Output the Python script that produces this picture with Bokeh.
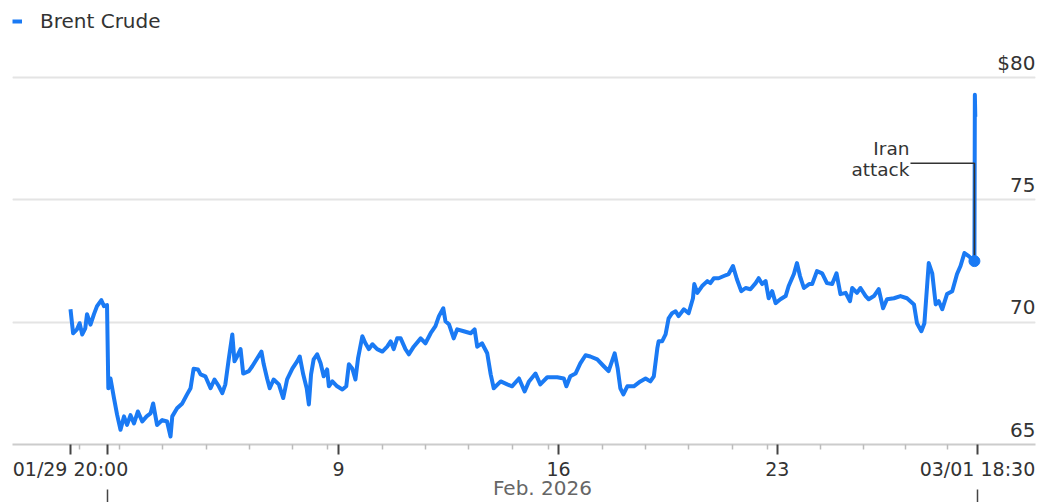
from bokeh.plotting import figure
from bokeh.models import Range1d, FixedTicker, LinearAxis, Grid, Legend, LegendItem
from bokeh.core.properties import value
from bokeh.embed import file_html
from bokeh.resources import INLINE

BLUE = "#1a7af4"
FONT = "DejaVu Sans"

# trading-day offset from 01/29 20:00 (weekends compressed) and Brent price, $
t_days = [
    0.00, 0.06, 0.15, 0.21, 0.27, 0.34, 0.38, 0.46, 0.54, 0.61, 0.71, 0.77, 0.84,
    0.87, 0.92, 1.00, 1.07, 1.15, 1.23, 1.30, 1.38, 1.46, 1.55, 1.65, 1.75, 1.84,
    1.90, 1.99, 2.11, 2.22, 2.30, 2.34, 2.45, 2.57, 2.68, 2.76, 2.83, 2.93, 2.99,
    3.10, 3.22, 3.31, 3.41, 3.49, 3.56, 3.64, 3.72, 3.77, 3.83, 3.91, 3.97, 4.10,
    4.18, 4.29, 4.39, 4.44, 4.52, 4.58, 4.67, 4.79, 4.89, 4.98, 5.10, 5.21, 5.27,
    5.35, 5.43, 5.48, 5.53, 5.59, 5.67, 5.75, 5.82, 5.90, 5.94, 6.02, 6.13, 6.25,
    6.34, 6.40, 6.48, 6.55, 6.61, 6.71, 6.78, 6.86, 6.94, 7.05, 7.17, 7.28, 7.36,
    7.43, 7.51, 7.59, 7.70, 7.78, 7.89, 8.05, 8.16, 8.28, 8.39, 8.47, 8.57, 8.62,
    8.70, 8.81, 8.89, 9.04, 9.20, 9.29, 9.35, 9.46, 9.58, 9.66, 9.73, 9.89, 10.04,
    10.15, 10.31, 10.44, 10.54, 10.69, 10.80, 10.96, 11.19, 11.34, 11.40, 11.49,
    11.61, 11.72, 11.84, 11.95, 12.11, 12.26, 12.37, 12.51, 12.58, 12.64, 12.71,
    12.80, 12.95, 13.10, 13.22, 13.33, 13.41, 13.49, 13.52, 13.60, 13.68, 13.75,
    13.83, 13.91, 13.98, 14.10, 14.21, 14.31, 14.34, 14.41, 14.52, 14.64, 14.71,
    14.79, 14.90, 15.02, 15.13, 15.23, 15.32, 15.42, 15.52, 15.63, 15.75, 15.82,
    15.90, 15.98, 16.05, 16.13, 16.21, 16.32, 16.44, 16.51, 16.63, 16.70, 16.77,
    16.86, 16.98, 17.05, 17.16, 17.28, 17.39, 17.51, 17.61, 17.70, 17.82, 17.92,
    17.97, 18.08, 18.16, 18.28, 18.35, 18.47, 18.58, 18.68, 18.77, 18.93, 19.08,
    19.23, 19.39, 19.46, 19.56, 19.63, 19.73, 19.81, 19.89, 19.96, 20.04, 20.15,
    20.27, 20.38, 20.46, 20.55, 20.65, 20.78, 20.79, 20.80,
]
price = [
    70.53, 69.55, 69.71, 69.96, 69.50, 69.75, 70.33, 69.90, 70.33, 70.66, 70.90, 70.66, 70.70,
    67.30, 67.70, 66.90, 66.23, 65.60, 66.15, 65.80, 66.20, 65.86, 66.35, 65.94, 66.15, 66.27,
    66.68, 65.80, 66.00, 65.94, 65.33, 66.15, 66.48, 66.68, 67.05, 67.30, 68.10, 68.07, 67.87,
    67.79, 67.30, 67.66, 67.38, 67.10, 67.46, 68.52, 69.50, 68.40, 68.60, 68.90, 67.90, 68.00,
    68.20, 68.52, 68.80, 68.30, 67.70, 67.30, 67.66, 67.46, 66.90, 67.66, 68.10, 68.40, 68.60,
    67.87, 67.30, 66.64, 67.87, 68.48, 68.69, 68.32, 67.79, 68.07, 67.38, 67.58, 67.38, 67.25,
    67.38, 68.28, 68.10, 67.66, 68.52, 69.43, 69.14, 68.90, 69.10, 68.90, 68.80, 69.00, 69.22,
    68.90, 69.34, 69.34, 68.90, 68.69, 69.00, 69.34, 69.14, 69.55, 69.84, 70.25, 70.57, 70.04,
    69.92, 69.34, 69.71, 69.63, 69.55, 69.71, 69.00, 69.14, 68.73, 67.87, 67.30, 67.58, 67.46,
    67.38, 67.70, 67.17, 67.58, 67.90, 67.46, 67.75, 67.75, 67.70, 67.38, 67.79,
    67.90, 68.32, 68.65, 68.60, 68.48, 68.20, 68.00, 68.73, 68.10, 67.30, 67.05,
    67.38, 67.38, 67.58, 67.70, 67.58, 67.79, 68.93, 69.22, 69.22, 69.50, 70.16,
    70.37, 70.45, 70.25, 70.53, 70.37, 70.98, 71.56, 71.20, 71.48, 71.68, 71.60,
    71.80, 71.80, 71.89, 71.97, 72.30, 71.76, 71.27, 71.40, 71.35, 71.60, 71.80,
    71.56, 71.68, 70.98, 71.27, 70.78, 70.94, 71.07, 71.48, 71.97, 72.42, 71.89,
    71.40, 71.56, 71.56, 72.09, 72.00, 71.60, 71.56, 72.00, 71.15, 71.20, 70.86,
    71.40, 71.20, 71.40, 71.07, 70.94, 71.07, 71.35, 70.57, 70.94, 70.98, 71.07,
    70.98, 70.73, 69.96, 69.63, 69.96, 72.42, 72.00, 70.73, 70.86, 70.53, 71.15,
    71.27, 71.97, 72.30, 72.83, 72.70, 72.50, 79.30, 78.40,
]

y_ticks = [65, 70, 75, 80]
y_labels = ["65", "70", "75", "$80"]
grid_ticks = [70, 75, 80]

x_tick_days = [0.0, 0.85, 6.16, 11.22, 16.25, 20.85]
x_tick_labels = ["01/29 20:00", "", "9", "16", "23", "03/01 18:30"]
x_minor_days = [0.21, 1.13, 2.11, 3.13, 4.11, 5.10, 5.91, 7.17, 8.16, 9.15, 10.16,
                10.99, 12.23, 13.22, 14.21, 15.22, 16.02, 17.24, 18.23, 19.20, 20.16]
month_bounds = [0.85, 20.85]
month_label = "Feb. 2026"

event_t = 20.78
event_price = 72.50
event_leader_t = 19.31
event_leader_price = 76.50
event_text = ["Iran", "attack"]
event_text_price = [77.09, 76.23]

series_name = "Brent Crude"

W, H = 1039, 502
x_start, x_end = -1.333, 22.184
y_start, y_end = 65.0, 82.83

p = figure(width=W, height=H, output_backend="svg", toolbar_location=None,
           x_range=Range1d(x_start, x_end), y_range=Range1d(y_start, y_end),
           y_axis_location=None, min_border_left=12, min_border_right=4,
           min_border_top=8, min_border_bottom=0)
p.outline_line_color = None
p.background_fill_color = "white"
p.border_fill_color = "white"
p.xgrid.visible = False

p.add_layout(Grid(dimension=1, ticker=FixedTicker(ticks=grid_ticks),
                  grid_line_color="#e4e4e4", grid_line_width=2))

xa = p.xaxis[0]
xa.ticker = FixedTicker(ticks=x_tick_days, minor_ticks=x_minor_days)
xa.major_label_overrides = dict(zip(x_tick_days, x_tick_labels))
xa.axis_line_color = "#cccccc"
xa.axis_line_width = 2
xa.major_tick_line_color = "#444444"
xa.major_tick_line_width = 2
xa.major_tick_in = 0
xa.major_tick_out = 10
xa.minor_tick_line_color = "#bbbbbb"
xa.minor_tick_line_width = 1.5
xa.minor_tick_in = 0
xa.minor_tick_out = 5
xa.major_label_text_font = FONT
xa.major_label_text_font_size = "19px"
xa.major_label_text_color = "#333333"
xa.major_label_standoff = 3

month_mid = (month_bounds[0] + month_bounds[1]) / 2
ma = LinearAxis(ticker=FixedTicker(ticks=[month_mid], minor_ticks=month_bounds),
                major_label_overrides={month_mid: month_label})
ma.axis_line_color = None
ma.major_tick_line_color = None
ma.major_tick_in = 0
ma.major_tick_out = 0
ma.minor_tick_line_color = "#444444"
ma.minor_tick_line_width = 1.5
ma.minor_tick_in = -7
ma.minor_tick_out = 20
ma.major_label_standoff = -27
ma.major_label_text_font = FONT
ma.major_label_text_font_size = "20px"
ma.major_label_text_color = "#666666"
p.add_layout(ma, "below")

line_r = p.line(t_days, price, line_color=BLUE, line_width=4, line_join="round")

p.line([event_leader_t, event_t, event_t],
       [event_leader_price, event_leader_price, event_price],
       line_color="#333333", line_width=1.5)
p.scatter([event_t], [event_price], size=11, color=BLUE)
p.text(x=[event_leader_t] * len(event_text), y=event_text_price, text=event_text,
       text_align="right", text_baseline="middle", x_offset=-1,
       text_font=value(FONT), text_font_size="18.5px", text_color="#333333")

p.text(x=[x_end] * len(y_ticks), y=y_ticks, text=y_labels,
       text_align="right", text_baseline="middle", y_offset=-15,
       text_font=value(FONT), text_font_size="20px", text_color="#333333")

legend = Legend(items=[LegendItem(label=series_name, renderers=[line_r])],
                location="top_left", margin=0, padding=0, spacing=0,
                glyph_width=10, glyph_height=26, label_height=26, label_standoff=18,
                label_text_font=FONT, label_text_font_size="20px",
                label_text_color="#333333", border_line_color=None,
                background_fill_alpha=0)
p.add_layout(legend)

open("out.html", "w").write(file_html(p, INLINE))
